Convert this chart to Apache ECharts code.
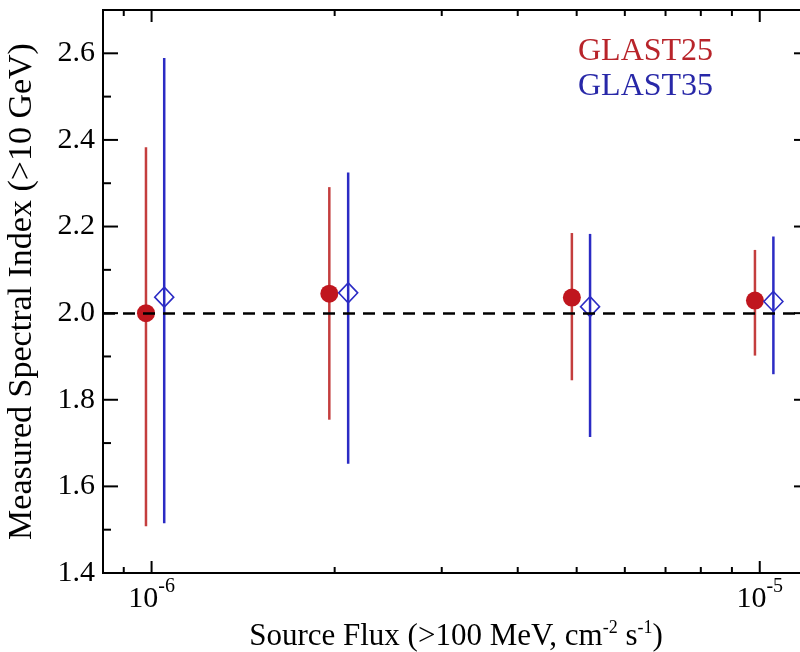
<!DOCTYPE html>
<html>
<head>
<meta charset="utf-8">
<title>Measured Spectral Index</title>
<script src="https://cdn.jsdelivr.net/npm/echarts@6/dist/echarts.min.js"></script>
<style>html,body{margin:0;padding:0;background:#fff;overflow:hidden;}</style>
</head>
<body>
<div id="main" style="width:800px;height:652px;"></div>
<script type="text/javascript">
// GLAST25 : filled red circles
var g25Flux  = [0.979e-6, 1.96e-6, 4.91e-6, 9.82e-6];
var g25Index = [2.000, 2.045, 2.036, 2.029];
var g25Low   = [1.508, 1.754, 1.845, 1.902];
var g25High  = [2.383, 2.291, 2.185, 2.146];
// GLAST35 : open blue diamonds
var g35Flux  = [1.049e-6, 2.105e-6, 5.26e-6, 1.053e-5];
var g35Index = [2.037, 2.047, 2.015, 2.027];
var g35Low   = [1.515, 1.652, 1.714, 1.859];
var g35High  = [2.589, 2.325, 2.183, 2.177];

var refIndex = 2.0;
var xMajorTicks = [1e-6, 1e-5];
var xMinorTicks = [9e-7, 2e-6, 3e-6, 4e-6, 5e-6, 6e-6, 7e-6, 8e-6, 9e-6];
var yMajorTicks = [1.4, 1.6, 1.8, 2.0, 2.2, 2.4, 2.6];
var yMinorTicks = [1.5, 1.7, 1.9, 2.1, 2.3, 2.5];

var FONT = 'Liberation Serif';
var myChart = echarts.init(document.getElementById('main'));

function zip3(a, b, c) {
    return a.map(function (v, i) { return [v, b[i], c[i]]; });
}
function zip2(a, b) {
    return a.map(function (v, i) { return [v, b[i]]; });
}

// x ticks: [value, y ref, major?]
var xTickData = xMajorTicks.map(function (v) { return [v, refIndex, 1]; })
    .concat(xMinorTicks.map(function (v) { return [v, refIndex, 0]; }));
var yTickData = yMajorTicks.map(function (v) { return [1e-6, v, 1]; })
    .concat(yMinorTicks.map(function (v) { return [1e-6, v, 0]; }));

function tickLine(x1, y1, x2, y2) {
    return {type: 'line', shape: {x1: x1, y1: y1, x2: x2, y2: y2},
        style: {stroke: '#000', lineWidth: 2}};
}

function renderXTick(params, api) {
    var cs = params.coordSys;
    var x = api.coord([api.value(0), api.value(1)])[0];
    var len = api.value(2) ? 12 : 6;
    var b = cs.y + cs.height;
    return {type: 'group', children: [
        tickLine(x, b, x, b - len),
        tickLine(x, cs.y, x, cs.y + len)
    ]};
}

function renderYTick(params, api) {
    var cs = params.coordSys;
    var y = api.coord([api.value(0), api.value(1)])[1];
    var len = api.value(2) ? 15 : 8;
    var r = cs.x + cs.width;
    return {type: 'group', children: [
        tickLine(cs.x, y, cs.x + len, y),
        tickLine(r, y, r - len, y)
    ]};
}

function errBar(color) {
    return function (params, api) {
        var p1 = api.coord([api.value(0), api.value(1)]);
        var p2 = api.coord([api.value(0), api.value(2)]);
        return {type: 'line', shape: {x1: p1[0], y1: p1[1], x2: p2[0], y2: p2[1]},
            style: {stroke: color, lineWidth: 2.5}};
    };
}

myChart.setOption({
    animation: false,
    textStyle: {fontFamily: FONT},
    grid: {left: 103, right: -9, top: 10, bottom: 79, outerBoundsMode: 'none',
        show: true, borderColor: '#000', borderWidth: 2, backgroundColor: 'transparent'},
    xAxis: {
        type: 'log', logBase: 10, min: 0.832e-6, max: 1.205e-5,
        axisLine: {show: false}, axisTick: {show: false}, splitLine: {show: false},
        minorTick: {show: false}, minorSplitLine: {show: false},
        axisLabel: {
            margin: 4,
            formatter: function (v) {
                var l = Math.log(v) / Math.LN10;
                var e = Math.round(l);
                if (Math.abs(l - e) > 1e-6) return '';
                return '{b|10}{s|' + e + '}';
            },
            rich: {
                b: {fontFamily: FONT, fontSize: 30, lineHeight: 44, color: '#000'},
                s: {fontFamily: FONT, fontSize: 20, verticalAlign: 'top', color: '#000'}
            }
        },
        name: '{b|Source Flux (>100 MeV, cm}{s|-2}{b| s}{s|-1}{b|)}',
        nameLocation: 'middle', nameGap: 24,
        nameTextStyle: {
            rich: {
                b: {fontFamily: FONT, fontSize: 31, lineHeight: 36, color: '#000'},
                s: {fontFamily: FONT, fontSize: 18, verticalAlign: 'top', color: '#000'}
            }
        }
    },
    yAxis: {
        type: 'value', min: 1.4, max: 2.7, interval: 0.2,
        axisLine: {show: false}, axisTick: {show: false}, splitLine: {show: false},
        axisLabel: {
            margin: 8, fontFamily: FONT, fontSize: 30, color: '#000',
            formatter: function (v) { return v > 2.65 ? '' : v.toFixed(1); }
        },
        name: 'Measured Spectral Index (>10 GeV)',
        nameLocation: 'middle', nameGap: 64, nameRotate: 90,
        nameTextStyle: {fontFamily: FONT, fontSize: 34, color: '#000'}
    },
    graphic: [
        {type: 'text', left: 578, top: 36,
            style: {text: 'GLAST25', fontFamily: FONT, fontSize: 32, fill: '#b8242a'}},
        {type: 'text', left: 578, top: 71,
            style: {text: 'GLAST35', fontFamily: FONT, fontSize: 32, fill: '#2828a8'}}
    ],
    series: [
        {
            name: 'ref', type: 'line', data: [], z: 1, silent: true,
            markLine: {
                silent: true, symbol: ['none', 'none'], label: {show: false},
                lineStyle: {color: '#000', type: [12, 8], width: 2.5},
                data: [{yAxis: refIndex}]
            }
        },
        {name: 'GLAST25 err', type: 'custom', renderItem: errBar('#c43e3e'),
            data: zip3(g25Flux, g25Low, g25High), z: 2, silent: true},
        {name: 'GLAST35 err', type: 'custom', renderItem: errBar('#2b2bc4'),
            data: zip3(g35Flux, g35Low, g35High), z: 2, silent: true},
        {name: 'GLAST25', type: 'scatter', symbol: 'circle', symbolSize: 18, z: 3,
            itemStyle: {color: '#c0161e', opacity: 1},
            data: zip2(g25Flux, g25Index)},
        {name: 'GLAST35', type: 'scatter', symbol: 'diamond', symbolSize: [19, 20], z: 3,
            itemStyle: {color: 'rgba(0,0,0,0)', borderColor: '#2b2bc4', borderWidth: 1.6, opacity: 1},
            data: zip2(g35Flux, g35Index)},
        {name: 'xticks', type: 'custom', renderItem: renderXTick, data: xTickData,
            z: 4, silent: true, clip: false},
        {name: 'yticks', type: 'custom', renderItem: renderYTick, data: yTickData,
            z: 4, silent: true, clip: false}
    ]
});
</script>
</body>
</html>
